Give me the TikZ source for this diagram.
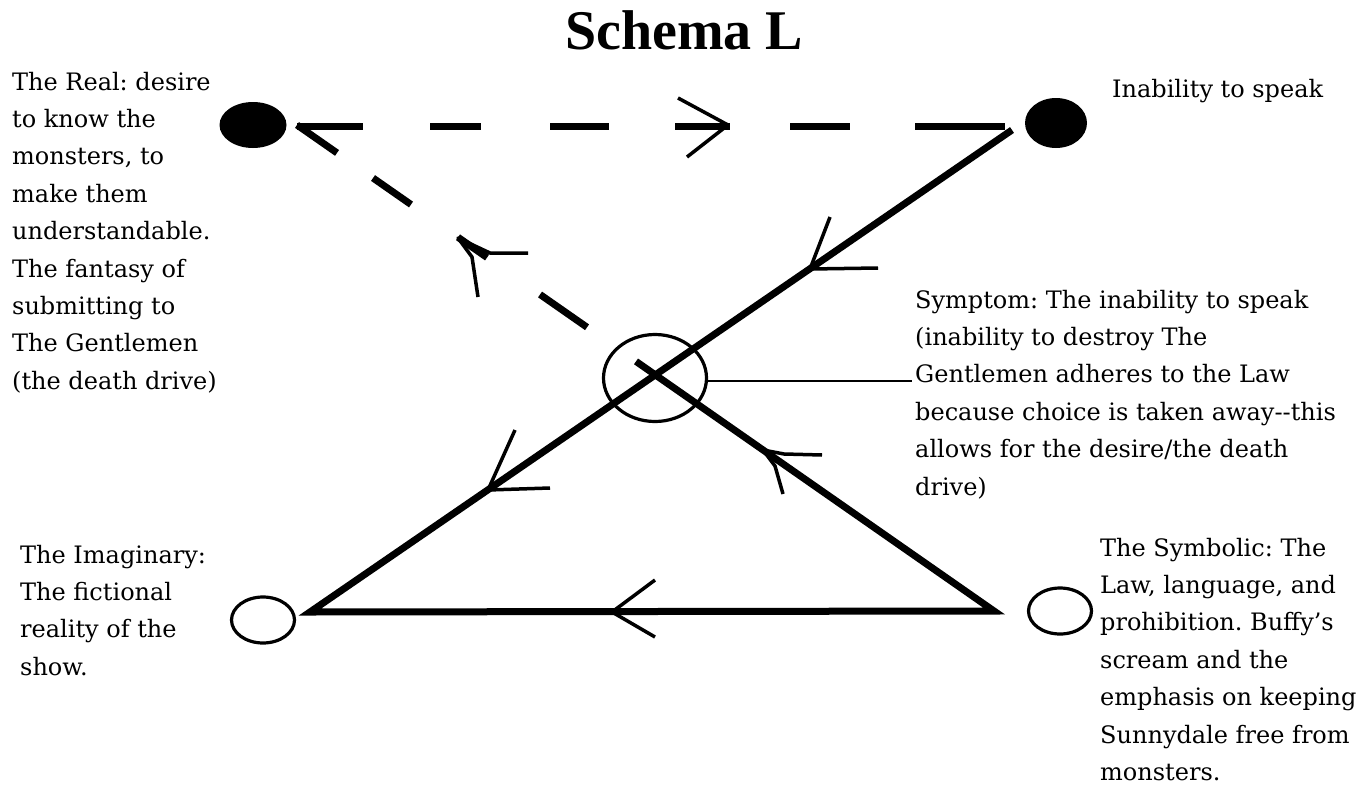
\documentclass[tikz,border=0pt]{standalone}
\usepackage{fontspec}
\setmainfont{DejaVu Serif}
\newfontfamily\titlefont{Liberation Serif}
\usetikzlibrary{shapes.geometric}
\frenchspacing
\tikzset{
  blob/.style={ellipse, fill=black, draw=none, inner sep=0pt},
  hollow/.style={ellipse, draw=black, line width=3.2pt, inner sep=0pt},
  mainline/.style={line width=7pt, line join=miter},
  dashline/.style={line width=7pt},
  arrowstroke/.style={line width=3.5pt, line join=round},
  leader/.style={line width=2pt},
  txt/.style={anchor=base west, inner sep=0pt, font=\fontsize{24}{37.4}\selectfont},
}
\begin{document}
\begin{tikzpicture}[x=1pt, y=-1pt]
\useasboundingbox (0,0) rectangle (1372,784);
\fill[white] (0,0) rectangle (1372,784);

% title
\node[anchor=base, inner sep=0pt, font=\titlefont\bfseries\fontsize{56}{60}\selectfont] (title) at (684,50) {Schema L};

% the four places and the symptom circle
\node[blob, minimum width=67pt, minimum height=46pt] (real) at (253,125) {};
\node[blob, minimum width=62pt, minimum height=50pt] (inab) at (1056,123) {};
\node[hollow, minimum width=63pt, minimum height=46pt] (imag) at (263,620) {};
\node[hollow, minimum width=63pt, minimum height=46pt] (symb) at (1060,611) {};
\node[hollow, minimum width=103pt, minimum height=87pt] (symp) at (655,378) {};

% corner coordinates of the Z
\coordinate (a) at (297,125);
\coordinate (atop) at (297,126);
\coordinate (btop) at (1005,126);
\coordinate (b) at (1012,130);
\coordinate (c) at (310,612);
\coordinate (d) at (994,611);
\coordinate (m) at (636,361.4);
\coordinate (ldr) at (912,381);

% top dashed line
\draw[dashline, dash pattern=on 66pt off 67pt on 51pt off 69pt on 59pt off 66pt on 55pt off 60pt on 60pt off 65pt on 90pt] (atop) -- (btop);
% diagonal dashed line
\draw[dashline, dash pattern=on 48.8pt off 43.9pt on 46.3pt off 57.3pt on 35.4pt off 64.6pt on 57.3pt off 59.7pt] (a) -- (m);
% solid Z
\draw[mainline] (b) -- (c) -- (d) -- (m);

% leader to symptom text
\draw[leader] (symp.east |- ldr) -- (ldr);

% arrowheads
\draw[arrowstroke] (678,98) -- (728,125) -- (687,157);
\draw[arrowstroke] (528,253) -- (490,253) -- (458,238) -- (472,257) -- (478,297);
\draw[arrowstroke] (830,217) -- (810,269) -- (878,268);
\draw[arrowstroke] (515,430) -- (488,490) -- (550,488);
\draw[arrowstroke] (822,455) -- (784,454) -- (763,450) -- (775,466) -- (783,494);
\draw[arrowstroke] (655,580) -- (612,612) -- (655,637);

% texts
\node[txt] (realtxt) at (12,90) {\parbox[t]{300pt}{\raggedright The Real: desire\\ to know the\\ monsters, to\\ make them\\ understandable.\\ The fantasy of\\ submitting to\\ The Gentlemen\\ (the death drive)}};
\node[txt] (inabtxt) at (1112,97) {Inability to speak};
\node[txt] (symptxt) at (915,308) {\parbox[t]{460pt}{\raggedright Symptom: The inability to speak\\ (inability to destroy The\\ Gentlemen adheres to the Law\\ because choice is taken away-{}-this\\ allows for the desire/the death\\ drive)}};
\node[txt] (imagtxt) at (20,563) {\parbox[t]{300pt}{\raggedright The Imaginary:\\ The fictional\\ reality of the\\ show.}};
\node[txt] (symbtxt) at (1100,556) {\parbox[t]{300pt}{\raggedright The Symbolic: The\\ Law, language, and\\ prohibition. Buffy's\\ scream and the\\ emphasis on keeping\\ Sunnydale free from\\ monsters.}};
\end{tikzpicture}
\end{document}
